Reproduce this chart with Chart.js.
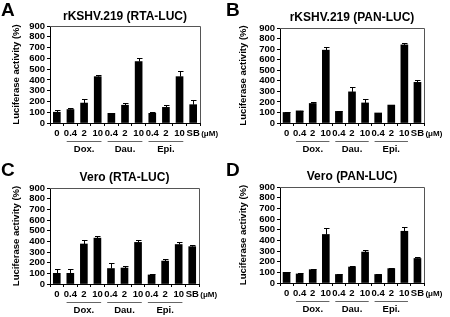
<!DOCTYPE html>
<html>
<head>
<meta charset="utf-8">
<script src="https://cdn.jsdelivr.net/npm/chart.js@4.4.0/dist/chart.umd.min.js"></script>
<style>
  body { margin: 0; background: #fff; }
  #wrap { position: relative; width: 450px; height: 317px; overflow: hidden; }
  canvas { position: absolute; }
</style>
</head>
<body>
<div id="wrap">
  <canvas id="chartA" width="225" height="160" style="left:0;top:0"></canvas>
  <canvas id="chartB" width="225" height="160" style="left:225px;top:0"></canvas>
  <canvas id="chartC" width="225" height="157" style="left:0;top:160px"></canvas>
  <canvas id="chartD" width="225" height="157" style="left:225px;top:160px"></canvas>
</div>
<script>
// Data
const categories = ['0', '0.4', '2', '10', '0.4', '2', '10', '0.4', '2', '10', 'SB'];
const drugGroups = ['Dox.', 'Dau.', 'Epi.'];
const groupStart = [1, 4, 7];
const groupEnd = [3, 6, 9];
const yMax = 900;
const yStep = 100;

// rKSHV.219 (RTA-LUC)
const kshvRtaValues = [100, 125, 185, 430, 90, 165, 570, 90, 145, 430, 170];
const kshvRtaErrors = [20, 15, 35, 20, 3, 20, 35, 10, 20, 55, 40];
// rKSHV.219 (PAN-LUC)
const kshvPanValues = [100, 115, 185, 690, 110, 295, 190, 95, 170, 740, 385];
const kshvPanErrors = [5, 3, 15, 30, 3, 50, 40, 3, 3, 20, 25];
// Vero (RTA-LUC)
const veroRtaValues = [100, 100, 375, 430, 145, 150, 390, 85, 215, 370, 350];
const veroRtaErrors = [40, 45, 35, 20, 55, 20, 20, 5, 20, 25, 20];
// Vero (PAN-LUC)
const veroPanValues = [100, 85, 125, 455, 80, 150, 290, 80, 135, 485, 230];
const veroPanErrors = [7, 5, 3, 65, 3, 10, 20, 3, 3, 40, 12];

const FONT = '"Liberation Sans", Arial, sans-serif';

// Error bars (upper only) drawn from scale pixels
const errorBars = {
    id: 'errorBars',
    afterDatasetsDraw(chart) {
        const errs = chart.options.plugins.errorBars.errors;
        const vals = chart.data.datasets[0].data;
        const meta = chart.getDatasetMeta(0);
        const y = chart.scales.y;
        const ctx = chart.ctx;
        ctx.save();
        ctx.strokeStyle = '#000';
        ctx.lineWidth = 1;
        meta.data.forEach((bar, i) => {
            const x = Math.round(bar.x) + 0.5;
            const top = Math.round(y.getPixelForValue(vals[i] + errs[i])) + 0.5;
            ctx.beginPath();
            ctx.moveTo(x, bar.y);
            ctx.lineTo(x, top);
            ctx.moveTo(x - 2.5, top);
            ctx.lineTo(x + 3, top);
            ctx.stroke();
        });
        ctx.restore();
    }
};

// Frame, titles, group labels
const panelDecor = {
    id: 'panelDecor',
    afterDraw(chart) {
        const o = chart.options.plugins.panelDecor;
        const a = chart.chartArea;
        const ctx = chart.ctx;
        const xs = chart.scales.x;
        ctx.save();

        // top and right frame
        ctx.strokeStyle = '#555';
        ctx.lineWidth = 1;
        ctx.beginPath();
        ctx.moveTo(a.left, a.top + 0.5);
        ctx.lineTo(a.right + 0.5, a.top + 0.5);
        ctx.lineTo(a.right + 0.5, a.bottom);
        ctx.stroke();

        ctx.fillStyle = '#000';
        // panel letter
        ctx.font = 'bold 19px ' + FONT;
        ctx.textAlign = 'left';
        ctx.textBaseline = 'top';
        ctx.fillText(o.letter, 1, 1);

        // title
        ctx.font = 'bold 12px ' + FONT;
        ctx.textAlign = 'center';
        ctx.textBaseline = 'middle';
        ctx.fillText(o.title, (a.left + a.right) / 2, o.titleY);

        // y axis title
        ctx.save();
        ctx.translate(o.yTitleX, (a.top + a.bottom) / 2);
        ctx.rotate(-Math.PI / 2);
        ctx.font = 'bold 9.5px ' + FONT;
        ctx.fillText('Luciferase activity (%)', 0, 0);
        ctx.restore();

        // unit
        ctx.font = 'bold 8px ' + FONT;
        ctx.textAlign = 'left';
        ctx.fillText('(\u03bcM)', xs.getPixelForValue(categories.length - 1) + 8, a.bottom + 10.5);

        // drug groups
        const half = (xs.getPixelForValue(1) - xs.getPixelForValue(0)) / 2;
        ctx.font = 'bold 9.5px ' + FONT;
        ctx.textAlign = 'center';
        drugGroups.forEach((g, i) => {
            const x1 = xs.getPixelForValue(groupStart[i]) - half * 0.55;
            const x2 = xs.getPixelForValue(groupEnd[i]) + half * 0.55;
            ctx.strokeStyle = '#666';
            ctx.beginPath();
            ctx.moveTo(x1, a.bottom + 18.5);
            ctx.lineTo(x2, a.bottom + 18.5);
            ctx.stroke();
            ctx.fillText(g, (x1 + x2) / 2, a.bottom + 26.5);
        });
        ctx.restore();
    }
};

function makePanel(id, cfg) {
    const canvas = document.getElementById(id);
    const H = canvas.height;
    return new Chart(canvas, {
        type: 'bar',
        data: {
            labels: categories,
            datasets: [{
                data: cfg.values,
                backgroundColor: '#000',
                borderWidth: 0,
                barThickness: 7
            }]
        },
        options: {
            responsive: false,
            animation: false,
            devicePixelRatio: 1,
            layout: { padding: { top: cfg.top, right: 225 - cfg.right, left: 0, bottom: 0 } },
            plugins: {
                legend: { display: false },
                tooltip: { enabled: false },
                title: { display: false },
                errorBars: { errors: cfg.errors },
                panelDecor: { letter: cfg.letter, title: cfg.title, titleY: cfg.titleY, yTitleX: cfg.yTitleX }
            },
            scales: {
                x: {
                    afterFit: s => { s.height = H - cfg.bottom; },
                    grid: { display: true, drawOnChartArea: false, offset: true, tickLength: 3, color: '#000' },
                    border: { display: true, color: '#000' },
                    ticks: {
                        autoSkip: false, maxRotation: 0, padding: 2, color: '#000',
                        font: { family: FONT, weight: 'bold', size: 9.5 }
                    }
                },
                y: {
                    min: 0, max: yMax,
                    afterFit: s => { s.width = cfg.left; },
                    grid: { display: true, drawOnChartArea: false, tickLength: 3, color: '#000' },
                    border: { display: true, color: '#000' },
                    ticks: {
                        autoSkip: false, stepSize: yStep, padding: 2, color: '#000',
                        font: { family: FONT, weight: 'bold', size: 9.5 }
                    }
                }
            }
        },
        plugins: [errorBars, panelDecor]
    });
}

makePanel('chartA', { letter: 'A', title: 'rKSHV.219 (RTA-LUC)', values: kshvRtaValues, errors: kshvRtaErrors,
    left: 50, right: 200, top: 26, bottom: 123, titleY: 17, yTitleX: 16 });
makePanel('chartB', { letter: 'B', title: 'rKSHV.219 (PAN-LUC)', values: kshvPanValues, errors: kshvPanErrors,
    left: 55, right: 199, top: 28, bottom: 123, titleY: 18, yTitleX: 18 });
makePanel('chartC', { letter: 'C', title: 'Vero (RTA-LUC)', values: veroRtaValues, errors: veroRtaErrors,
    left: 50, right: 199, top: 28, bottom: 124, titleY: 18, yTitleX: 16 });
makePanel('chartD', { letter: 'D', title: 'Vero (PAN-LUC)', values: veroPanValues, errors: veroPanErrors,
    left: 55, right: 199, top: 27, bottom: 123, titleY: 17, yTitleX: 18 });
</script>
</body>
</html>
